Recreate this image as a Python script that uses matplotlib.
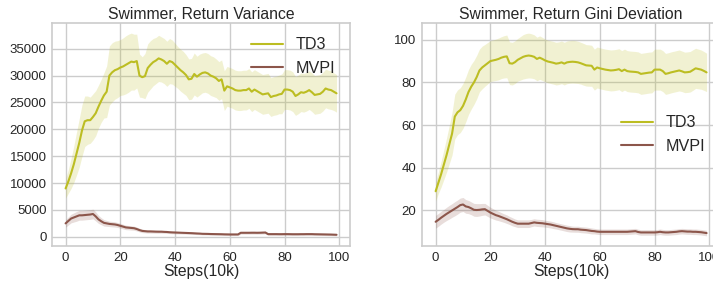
import numpy as np
import matplotlib
matplotlib.use("Agg")
import matplotlib.pyplot as plt

plt.style.use("seaborn-v0_8-whitegrid")
plt.rcParams['font.family'] = ['Liberation Sans', 'DejaVu Sans']

steps = np.arange(100)

# ---- Left panel: Return Variance ----
var_td3_mean = [9000, 10300, 11800, 13500, 15500, 17500, 19800, 21500, 21700, 21700,
                22300, 23000, 24200, 25300, 26300, 27000, 30000, 30600, 31000, 31200,
                31500, 31700, 32000, 32300, 32600, 32500, 32700, 30000, 29700, 29900,
                31400, 32000, 32500, 32800, 33200, 33000, 32700, 32200, 32700, 32500,
                32000, 31500, 31000, 30600, 30100, 29300, 29400, 30300, 29800, 30200,
                30500, 30600, 30400, 30000, 29800, 29500, 29000, 29300, 27200, 28000,
                27800, 27600, 27300, 27200, 27200, 27300, 27300, 27600, 27000, 27400,
                27100, 26800, 26500, 26600, 26700, 26000, 26200, 26300, 26500, 26600,
                27400, 27400, 27300, 27000, 26200, 26500, 26900, 26800, 27000, 27300,
                26900, 26400, 26500, 26600, 27000, 27600, 27400, 27300, 27000, 26700]
var_td3_std = [1800, 2200, 2800, 3400, 4000, 4500, 4800, 4700, 4500, 4300,
               4300, 4200, 4000, 4000, 4200, 4800, 5500, 5500, 5400, 5300,
               5200, 5300, 5400, 5400, 5300, 5200, 5000, 4000, 3800, 4200,
               4500, 4500, 4400, 4300, 4300, 4200, 4200, 4200, 4200, 4100,
               4000, 3900, 3900, 3900, 3800, 3800, 3800, 3900, 3800, 3800,
               3700, 3700, 3700, 3700, 3700, 3600, 3600, 3600, 3700, 3700,
               3700, 3700, 3700, 3700, 3700, 3700, 3700, 3700, 3700, 3700,
               3700, 3700, 3700, 3700, 3700, 3600, 3600, 3600, 3600, 3700,
               3700, 3700, 3700, 3700, 3600, 3600, 3600, 3600, 3600, 3600,
               3600, 3600, 3600, 3600, 3600, 3600, 3600, 3600, 3500, 3500]
var_mvpi_mean = [2500, 2950, 3400, 3600, 3800, 4000, 4000, 4050, 4100, 4150,
                 4250, 3800, 3250, 2900, 2600, 2500, 2400, 2350, 2300, 2200,
                 2050, 1900, 1750, 1700, 1650, 1600, 1450, 1250, 1100, 1050,
                 1000, 1000, 980, 960, 950, 950, 920, 900, 850, 820,
                 800, 780, 760, 740, 720, 700, 680, 650, 620, 600,
                 560, 550, 540, 520, 510, 500, 490, 480, 460, 450,
                 440, 440, 440, 440, 750, 750, 750, 750, 760, 760,
                 750, 760, 780, 800, 500, 500, 500, 500, 490, 490,
                 500, 500, 490, 480, 480, 480, 490, 490, 500, 500,
                 500, 480, 470, 460, 450, 440, 430, 420, 400, 380]
var_mvpi_std = [700, 750, 800, 850, 900, 900, 900, 900, 900, 900,
                900, 850, 750, 650, 600, 550, 500, 500, 480, 460,
                450, 430, 420, 400, 400, 380, 360, 340, 320, 300,
                300, 300, 290, 280, 280, 270, 260, 260, 250, 250,
                240, 240, 230, 230, 220, 220, 210, 210, 200, 200,
                200, 200, 200, 200, 200, 200, 200, 200, 200, 200,
                200, 200, 200, 200, 250, 250, 250, 250, 250, 250,
                250, 250, 250, 250, 200, 200, 200, 200, 200, 200,
                200, 200, 200, 200, 200, 200, 200, 200, 200, 200,
                200, 200, 200, 200, 200, 200, 200, 200, 200, 200]

# ---- Right panel: Return Gini Deviation ----
gini_td3_mean = [29, 33, 37, 41.5, 46, 51, 56, 64, 66, 67,
                 69, 72, 75.5, 78, 80, 82.5, 85.6, 87, 88, 89,
                 90, 90.3, 90.6, 91, 91.6, 92, 92.2, 89, 88.8, 89.5,
                 90.6, 91.3, 92, 92.4, 92.6, 92.4, 92, 91, 91.6, 91,
                 90.3, 89.8, 89.5, 89.2, 88.8, 89, 89.4, 88.8, 89.4, 89.6,
                 89.7, 89.6, 89.4, 89, 88.5, 88, 87.9, 87.8, 86, 87,
                 86.6, 86.3, 86, 85.8, 85.6, 85.7, 85.9, 86.2, 85.3, 86,
                 85.3, 85.1, 85, 84.9, 84.7, 84, 84.2, 84.4, 84.6, 84.7,
                 86, 86, 86, 85.3, 84, 84.3, 84.7, 85, 85.3, 85.6,
                 85.2, 84.7, 84.8, 85, 85.8, 86.6, 86.3, 86, 85.4, 84.7]
gini_td3_std = [4.5, 5, 6, 7, 8, 9, 10, 10.5, 10.5, 10.5,
                10.5, 10.5, 10.5, 10.5, 10.3, 10.2, 10, 10, 9.8, 9.7,
                9.6, 9.6, 9.7, 9.8, 9.8, 9.9, 10, 10, 10, 10,
                10, 10.2, 10.4, 10.5, 10.5, 10.4, 10.3, 10.2, 10.2, 10.1,
                10, 10, 10, 10, 10, 10, 10, 10, 10, 10,
                10, 10, 9.9, 9.8, 9.8, 9.7, 9.7, 9.6, 9.6, 9.6,
                9.6, 9.6, 9.6, 9.6, 9.6, 9.6, 9.6, 9.6, 9.6, 9.6,
                9.6, 9.6, 9.6, 9.6, 9.6, 9.6, 9.6, 9.6, 9.6, 9.6,
                9.6, 9.6, 9.6, 9.6, 9.6, 9.6, 9.6, 9.6, 9.6, 9.6,
                9.5, 9.5, 9.5, 9.5, 9.5, 9.4, 9.3, 9.2, 9.1, 9.0]
gini_mvpi_mean = [14.7, 15.6, 16.6, 17.5, 18.4, 19.2, 20, 20.8, 21.6, 22.5,
                  22.8, 21.9, 21.6, 21, 20.3, 20.2, 20.3, 20.5, 20.6, 19.8,
                  19, 18.4, 17.8, 17.4, 16.9, 16.4, 15.9, 15.3, 14.7, 14.2,
                  13.8, 13.8, 13.8, 13.8, 13.8, 14.1, 14.4, 14.2, 14.1, 14,
                  13.8, 13.6, 13.4, 13.1, 12.8, 12.5, 12.2, 11.9, 11.6, 11.4,
                  11.25, 11.2, 11.2, 11, 10.9, 10.8, 10.6, 10.4, 10.3, 10.1,
                  10, 10, 10, 10, 10, 10, 10, 10, 10, 10,
                  10, 10.1, 10.2, 10.3, 9.9, 9.7, 9.7, 9.7, 9.7, 9.7,
                  9.7, 9.8, 10, 9.8, 9.7, 9.7, 9.8, 9.9, 10, 10.2,
                  10.3, 10.2, 10.1, 10.1, 10, 10, 9.9, 9.8, 9.6, 9.4]
gini_mvpi_std = [3, 3, 3, 3, 3.1, 3.2, 3.2, 3.3, 3.3, 3.3,
                 3.3, 3.2, 3.1, 3, 3, 3, 2.9, 2.8, 2.7, 2.6,
                 2.5, 2.4, 2.3, 2.2, 2.1, 2, 2, 1.9, 1.9, 1.8,
                 1.8, 1.8, 1.8, 1.8, 1.8, 1.7, 1.7, 1.7, 1.7, 1.7,
                 1.6, 1.6, 1.6, 1.6, 1.5, 1.5, 1.5, 1.5, 1.5, 1.5,
                 1.4, 1.4, 1.4, 1.4, 1.4, 1.4, 1.4, 1.4, 1.3, 1.3,
                 1.3, 1.3, 1.3, 1.3, 1.3, 1.3, 1.3, 1.3, 1.3, 1.3,
                 1.3, 1.3, 1.3, 1.3, 1.3, 1.3, 1.3, 1.3, 1.3, 1.3,
                 1.3, 1.3, 1.3, 1.3, 1.3, 1.3, 1.3, 1.3, 1.3, 1.3,
                 1.3, 1.3, 1.3, 1.3, 1.3, 1.3, 1.3, 1.3, 1.3, 1.3]

c_td3 = "#bcbd22"
c_mvpi = "#8c564b"

fig = plt.figure(figsize=(7.13, 2.81), dpi=100)
ax1 = fig.add_axes([0.073, 0.1246, 0.418, 0.7936])
ax2 = fig.add_axes([0.592, 0.1246, 0.418, 0.7936])

def panel(ax, td3_m, td3_s, mv_m, mv_s, title, legloc):
    td3_m, td3_s = np.array(td3_m), np.array(td3_s)
    mv_m, mv_s = np.array(mv_m), np.array(mv_s)
    ax.plot(steps, td3_m, color=c_td3, lw=1.5, label="TD3")
    ax.fill_between(steps, td3_m - td3_s, td3_m + td3_s, color=c_td3, alpha=0.2, lw=0)
    ax.plot(steps, mv_m, color=c_mvpi, lw=1.5, label="MVPI")
    ax.fill_between(steps, mv_m - mv_s, mv_m + mv_s, color=c_mvpi, alpha=0.2, lw=0)
    ax.set_title(title, fontsize=11.3, color="#262626", pad=3)
    ax.set_xlabel("Steps(10k)", fontsize=11.3, color="#262626", labelpad=0)
    ax.tick_params(labelsize=9.5, colors="#262626", length=0, pad=4)
    ax.set_xticks([0, 20, 40, 60, 80, 100])
    for s in ax.spines.values():
        s.set_visible(True)
        s.set_color("#cccccc")
        s.set_linewidth(1.2)
    ax.grid(True, color="#cccccc", lw=1.0)
    ax.legend(loc=legloc, fontsize=11.6, frameon=False)

panel(ax1, var_td3_mean, var_td3_std, var_mvpi_mean, var_mvpi_std,
      "Swimmer, Return Variance", "upper right")
ax1.set_yticks([0, 5000, 10000, 15000, 20000, 25000, 30000, 35000])
panel(ax2, gini_td3_mean, gini_td3_std, gini_mvpi_mean, gini_mvpi_std,
      "Swimmer, Return Gini Deviation", "center right")
ax2.set_yticks([20, 40, 60, 80, 100])

fig.savefig("out.png", dpi=100)
